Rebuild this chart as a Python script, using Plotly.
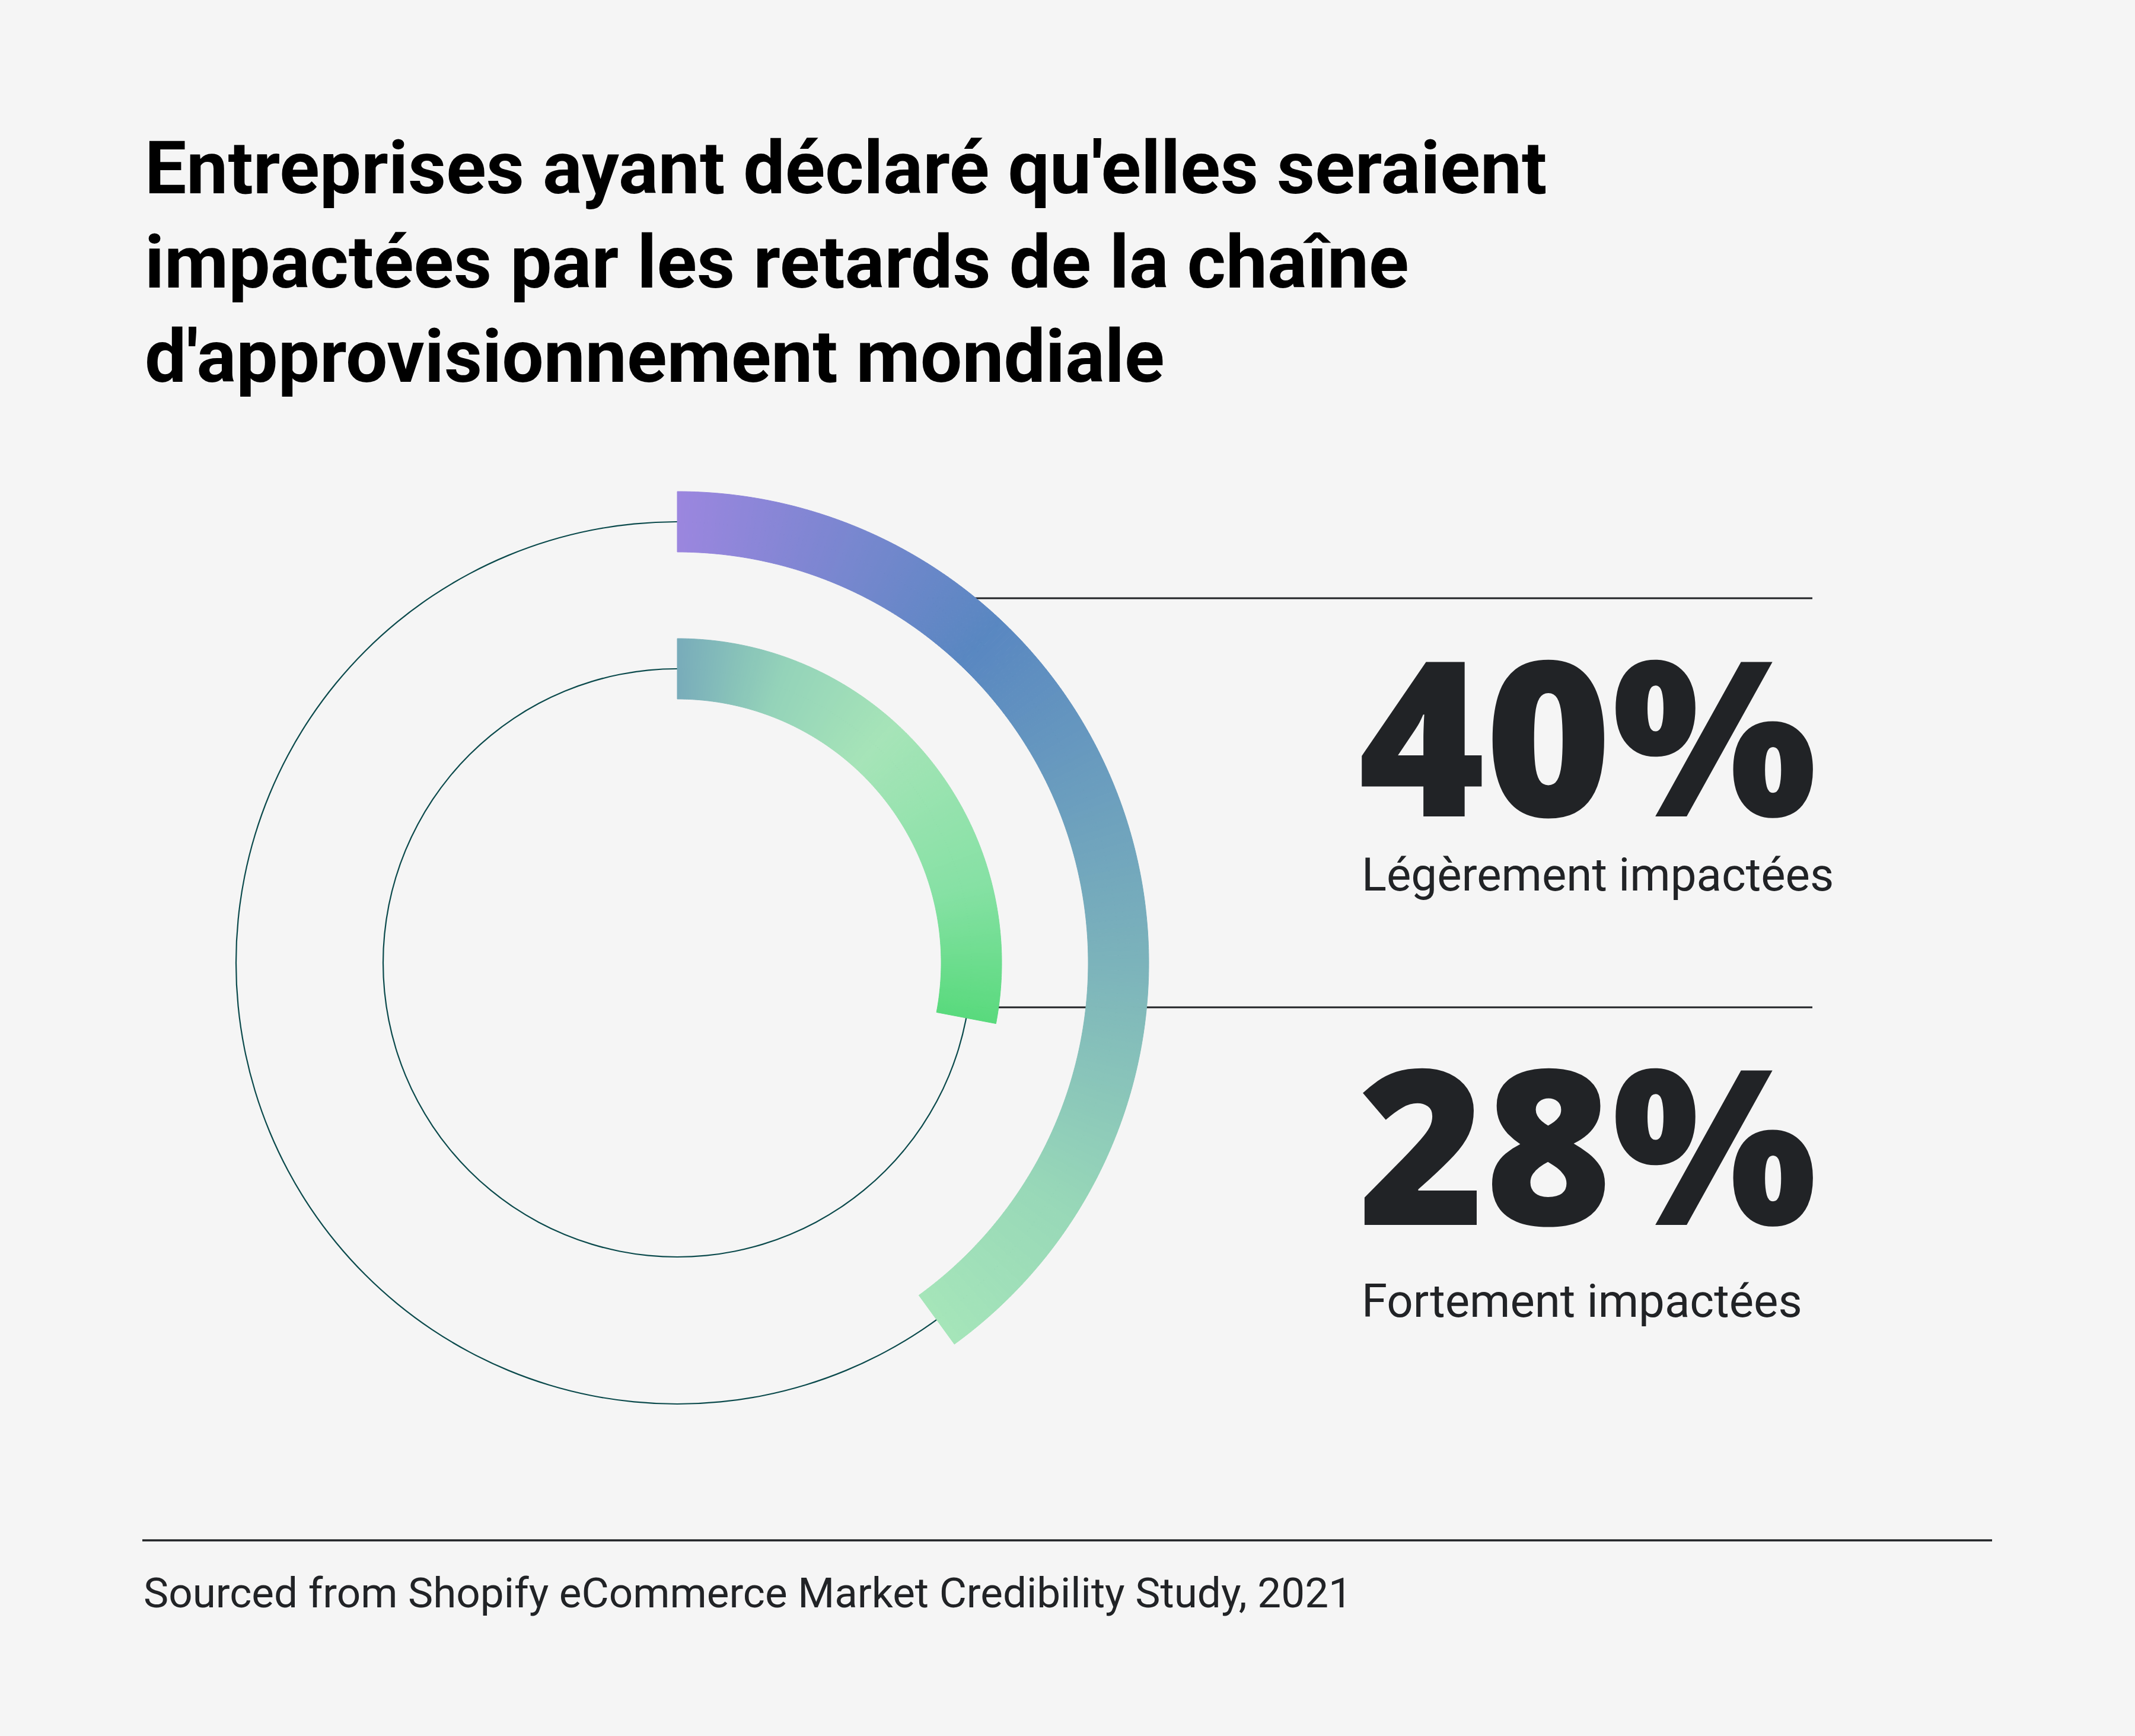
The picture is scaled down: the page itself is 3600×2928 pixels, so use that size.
import numpy as np
import plotly.graph_objects as go

# ---------------- data ----------------
categories = ["Légèrement impactées", "Fortement impactées"]
values = [40, 28]                      # percent
value_labels = ["40%", "28%"]
title_lines = [
    "Entreprises ayant déclaré qu'elles seraient",
    "impactées par les retards de la chaîne",
    "d'approvisionnement mondiale",
]
source_text = "Sourced from Shopify eCommerce Market Credibility Study, 2021"

# ---------------- style / layout ----------------
W, H = 3600, 2928
BG = "#F5F5F5"
INK = "#212326"
TEAL = "#0B4A4C"
CX, CY = 1142, 1624          # ring centre (px, from top-left)
R_PLOT = 820                 # polar radius in px (1 radial unit = 1 px)
ring_mid = [744, 496]        # outer ring, inner ring
ring_thick = 102
circle_thick = 2.2
gradients = [
    [(0.00, "#9B86DF"), (0.30, "#5987C1"), (0.62, "#7BB2BB"), (0.85, "#98D8B8"), (1.00, "#A5E5B9")],
    [(0.00, "#78ACBA"), (0.20, "#94D3B9"), (0.42, "#A6E4B8"), (0.75, "#86E1A4"), (1.00, "#59DA7D")],
]
STEP = 0.5


def hex2rgb(h):
    h = h.lstrip("#")
    return np.array([int(h[i:i + 2], 16) for i in (0, 2, 4)], dtype=float)


def grad_color(stops, t):
    for (t0, c0), (t1, c1) in zip(stops[:-1], stops[1:]):
        if t <= t1:
            f = 0 if t1 == t0 else (t - t0) / (t1 - t0)
            c = hex2rgb(c0) * (1 - f) + hex2rgb(c1) * f
            return "rgb(%d,%d,%d)" % tuple(np.round(c))
    c = hex2rgb(stops[-1][1])
    return "rgb(%d,%d,%d)" % tuple(c)


fig = go.Figure()

# thin full circles (drawn first so the arcs sit on top)
quarters = np.array([45, 135, 225, 315])
for mid in ring_mid:
    fig.add_trace(go.Barpolar(
        r=np.full(4, circle_thick), base=np.full(4, mid - circle_thick / 2),
        theta=quarters, width=np.full(4, 90),
        marker=dict(color=TEAL, line=dict(width=0)),
        hoverinfo="skip", showlegend=False))

# gradient arcs built from the values
for val, mid, stops, name in zip(values, ring_mid, gradients, categories):
    span = val / 100 * 360
    n = int(round(span / STEP))
    edges = np.linspace(0, span, n + 1)
    centers = (edges[:-1] + edges[1:]) / 2
    widths = np.diff(edges)
    cols = [grad_color(stops, c / span) for c in centers]
    fig.add_trace(go.Barpolar(
        r=np.full(n, ring_thick), base=np.full(n, mid - ring_thick / 2),
        theta=centers, width=widths, name=name,
        marker=dict(color=cols, line=dict(color=cols, width=1)),
        hoverinfo="skip", showlegend=False))

px_x = lambda x: x / W
px_y = lambda y: 1 - y / H

fig.update_layout(
    width=W, height=H,
    margin=dict(l=0, r=0, t=0, b=0),
    paper_bgcolor=BG, plot_bgcolor=BG,
    showlegend=False,
    polar=dict(
        domain=dict(x=[px_x(CX - R_PLOT), px_x(CX + R_PLOT)],
                    y=[px_y(CY + R_PLOT), px_y(CY - R_PLOT)]),
        bgcolor="rgba(0,0,0,0)",
        bargap=0, barmode="overlay", hole=0,
        radialaxis=dict(range=[0, R_PLOT], visible=False, showgrid=False),
        angularaxis=dict(visible=False, rotation=90, direction="clockwise",
                         showgrid=False, showline=False, ticks=""),
    ),
)

# leader lines (under the arcs) and footer rule
line_style = dict(color=INK, width=3)
fig.add_shape(type="line", xref="paper", yref="paper", layer="below",
              x0=px_x(1560), x1=px_x(3056), y0=px_y(1009), y1=px_y(1009), line=line_style)
fig.add_shape(type="line", xref="paper", yref="paper", layer="below",
              x0=px_x(1645), x1=px_x(3056), y0=px_y(1699), y1=px_y(1699), line=line_style)
fig.add_shape(type="line", xref="paper", yref="paper", layer="below",
              x0=px_x(240), x1=px_x(3359), y0=px_y(2598), y1=px_y(2598),
              line=dict(color=INK, width=3.5))

# title, one annotation per line (baselines 328 / 487 / 646 px)
TITLE_SIZE = 125
for line, base_y in zip(title_lines, [328, 487, 646]):
    fig.add_annotation(xref="paper", yref="paper", x=px_x(242),
                       y=px_y(base_y - 0.355 * TITLE_SIZE),
                       xanchor="left", yanchor="middle", align="left", showarrow=False,
                       text=line,
                       font=dict(family="Roboto", size=TITLE_SIZE, color="#000000", weight=700))

# big values + labels
num_y = [1235, 1924]
lab_y = [1476, 2194]
for vlab, cat, ny, ly in zip(value_labels, categories, num_y, lab_y):
    fig.add_annotation(xref="paper", yref="paper", x=px_x(2288), y=px_y(ny),
                       xanchor="left", yanchor="middle", showarrow=False, text=vlab,
                       font=dict(family="Open Sans", size=365, color=INK, weight=800))
    fig.add_annotation(xref="paper", yref="paper", x=px_x(2294), y=px_y(ly),
                       xanchor="left", yanchor="middle", showarrow=False, text=cat,
                       font=dict(family="Roboto", size=78, color=INK, weight=400))

# source
fig.add_annotation(xref="paper", yref="paper", x=px_x(240), y=px_y(2686),
                   xanchor="left", yanchor="middle", showarrow=False, text=source_text,
                   font=dict(family="Roboto", size=71, color=INK, weight=400))

fig.write_html("out.html")
